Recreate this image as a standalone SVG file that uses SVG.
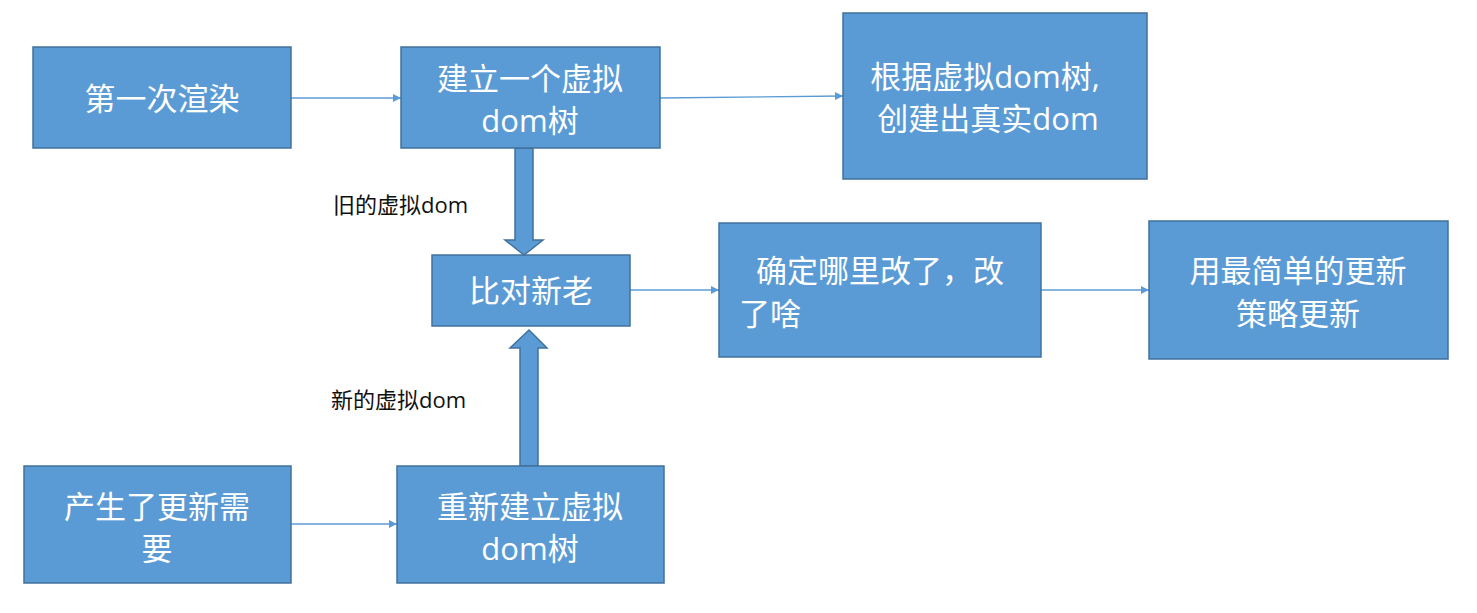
<svg xmlns="http://www.w3.org/2000/svg" width="1477" height="613" viewBox="0 0 1477 613">
<defs>
<style>
.box{fill:#5B9BD5;stroke:#41719C;stroke-width:1.5}
.t{fill:#fff;font-family:"Open Sans","Noto Sans CJK SC",sans-serif;font-size:31px;text-anchor:middle}
.l{fill:#111;font-family:"Open Sans","Noto Sans CJK SC",sans-serif;font-size:22px}
.c{stroke:#5B9BD5;stroke-width:1.3;fill:none}
.ba{fill:#5B9BD5;stroke:#41719C;stroke-width:1.5}
</style>
<marker id="ah" viewBox="0 0 10 10" refX="10" refY="5" markerWidth="8" markerHeight="8" orient="auto" markerUnits="userSpaceOnUse"><path d="M0,0L10,5L0,10z" fill="#5B9BD5"/></marker>
</defs>
<rect width="1477" height="613" fill="#fff"/>
<g id="connectors">
<line class="c" x1="291" y1="98" x2="401" y2="98" marker-end="url(#ah)"/>
<line class="c" x1="660" y1="98" x2="843" y2="96" marker-end="url(#ah)"/>
<line class="c" x1="630" y1="290" x2="719" y2="290" marker-end="url(#ah)"/>
<line class="c" x1="1041" y1="290" x2="1149" y2="290" marker-end="url(#ah)"/>
<line class="c" x1="291" y1="524" x2="397" y2="524" marker-end="url(#ah)"/>
<path class="ba" d="M515,148H533V240H543L524,255L505,240H515Z"/>
<path class="ba" d="M520,466H538V348H547L529,330L510,348H520Z"/>
<text class="l" x="333" y="213">旧的虚拟dom</text>
<text class="l" x="331" y="408">新的虚拟dom</text>
</g>
<g id="n1"><rect class="box" x="33" y="47" width="258" height="101"/><text class="t" x="162" y="110">第一次渲染</text></g>
<g id="n2"><rect class="box" x="401" y="47" width="259" height="101"/><text class="t" x="530" y="90">建立一个虚拟</text><text class="t" x="530" y="132">dom树</text></g>
<g id="n3"><rect class="box" x="843" y="13" width="304" height="166"/><text class="t" x="985" y="88">根据虚拟dom树,</text><text class="t" x="988" y="130">创建出真实dom</text></g>
<g id="n4"><rect class="box" x="432" y="255" width="198" height="71"/><text class="t" x="531" y="302">比对新老</text></g>
<g id="n5"><rect class="box" x="719" y="223" width="322" height="134"/><text class="t" x="880" y="282">确定哪里改了，改</text><text class="t" x="770" y="325" text-anchor="start">了啥</text></g>
<g id="n6"><rect class="box" x="1149" y="221" width="299" height="138"/><text class="t" x="1298" y="282">用最简单的更新</text><text class="t" x="1298" y="325">策略更新</text></g>
<g id="n7"><rect class="box" x="24" y="466" width="267" height="117"/><text class="t" x="157" y="518">产生了更新需</text><text class="t" x="157" y="560">要</text></g>
<g id="n8"><rect class="box" x="397" y="466" width="267" height="117"/><text class="t" x="530" y="518">重新建立虚拟</text><text class="t" x="530" y="560">dom树</text></g>
</svg>
